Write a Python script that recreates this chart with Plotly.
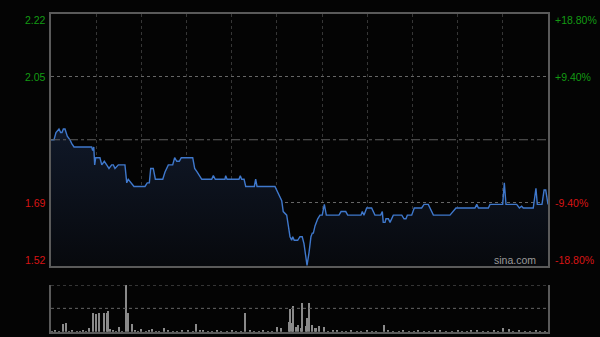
import plotly.graph_objects as go

# ---------------- data ----------------
prev_close = 1.87
price_minutes = [0, 2, 3.3, 5.3, 6.4, 7.3, 8.2, 9.3, 10.8, 12.6, 13.7, 15.3, 27, 27.7, 28.4, 29, 29.7,
                 32.5, 33.7, 35.4, 37, 38.5, 40.3, 41.4, 42.5, 44.7, 49.1, 50.3, 51.3, 52.9, 55.1, 62.4,
                 63.9, 65.3, 66.2, 67.9, 69.3, 74.2, 75.7, 77.9, 80.8, 82.1, 83.5, 85.2, 86.5, 94.1, 95.4,
                 97.1, 100.1, 106.7, 107.8, 109.1, 115.5, 116, 116.9, 124.8, 125.7, 126.6, 128.2, 129.3,
                 135, 135.9, 136.8, 148.7, 150.9, 153.2, 154.2, 156.5, 157.6, 158.7, 159.8, 160.5, 161.5,
                 163.8, 165.3, 166.8, 168, 169.1, 170, 171.3, 172.6, 173.5, 174.2, 175.3, 177.1, 178.6,
                 180.1, 181.5, 182.8, 191.2, 192.6, 195.7, 197, 205.8, 206.7, 207.8, 209.6, 212.9, 215.1,
                 218.9, 220, 220.6, 221.8, 222.4, 224, 225.1, 226.2, 227.3, 232.9, 234.4, 235.7, 236.6,
                 239.5, 241.2, 246.1, 247.7, 250.5, 251.7, 253.9, 264.9, 266.7, 268.9, 281.5, 282.7, 283.8,
                 290.4, 291.5, 299.9, 301, 302.1, 309.2, 311, 312.5, 313.6, 320.2, 322, 322.9, 326, 327.4,
                 328.5, 330]
prices = [1.87, 1.87, 1.89, 1.90, 1.89, 1.89, 1.90, 1.90, 1.88, 1.87, 1.86, 1.85, 1.85, 1.84, 1.85, 1.80, 1.82,
          1.82, 1.80, 1.81, 1.80, 1.79, 1.80, 1.80, 1.79, 1.80, 1.80, 1.75, 1.76, 1.75, 1.74, 1.74,
          1.75, 1.75, 1.79, 1.79, 1.76, 1.76, 1.78, 1.80, 1.80, 1.82, 1.81, 1.81, 1.82, 1.82, 1.79,
          1.78, 1.76, 1.76, 1.77, 1.76, 1.76, 1.77, 1.76, 1.76, 1.77, 1.76, 1.76, 1.74,
          1.74, 1.76, 1.74, 1.74, 1.72, 1.70, 1.67, 1.66, 1.63, 1.60, 1.59, 1.60, 1.59,
          1.59, 1.60, 1.60, 1.58, 1.55, 1.52, 1.555, 1.60, 1.61, 1.61, 1.63, 1.65, 1.66,
          1.66, 1.69, 1.66, 1.66, 1.67, 1.67, 1.66, 1.66, 1.67, 1.66, 1.68, 1.68, 1.66,
          1.66, 1.67, 1.64, 1.64, 1.65, 1.65, 1.64, 1.65, 1.66, 1.66, 1.65, 1.65, 1.66,
          1.66, 1.68, 1.68, 1.69, 1.69, 1.68, 1.66, 1.66, 1.67, 1.68, 1.68, 1.69, 1.68,
          1.68, 1.69, 1.69, 1.75, 1.69, 1.69, 1.68, 1.685, 1.68, 1.68, 1.735, 1.69, 1.69, 1.73,
          1.73, 1.69]

vol_minutes = [8, 10, 25, 28, 30, 32, 35, 37, 38, 39, 45, 50, 51, 54, 60, 67, 75, 91, 96, 101,
               129, 150, 153, 158, 159, 160, 161, 163, 164, 166, 167, 169, 170, 171, 173, 175,
               176, 178, 181, 187, 221, 255, 279, 300, 304]
vol_values = [16, 19, 7, 41, 37, 41, 39, 39, 44, 5, 11, 100, 39, 16, 5, 5, 7, 4, 16, 4,
              39, 11, 7, 21, 49, 19, 55, 10, 14, 7, 62, 12, 29, 61, 14, 9,
              9, 12, 11, 4, 14, 4, 3, 7, 6]
minor_minutes = [1, 3, 5, 12, 14, 17, 19, 21, 23, 41, 43, 47, 56, 58, 63, 65, 70, 72, 78, 81, 84, 87,
                 94, 99, 104, 107, 110, 113, 117, 120, 123, 126, 132, 135, 138, 141, 144, 147,
                 184, 190, 193, 196, 199, 203, 206, 210, 213, 216, 224, 227, 231, 234, 238, 241,
                 244, 248, 251, 258, 262, 266, 270, 273, 276, 283, 287, 290, 294, 297, 307, 311,
                 315, 318, 322, 325, 328]
minor_values = [1, 2, 1, 1, 2, 1, 1, 2, 1, 2, 1, 1, 2, 1, 1, 2, 1, 1, 2, 1, 1, 2,
                1, 2, 1, 1, 2, 1, 1, 2, 1, 1, 2, 1, 1, 2, 1, 1,
                1, 2, 1, 1, 2, 1, 1, 2, 1, 1, 2, 1, 1, 2, 1, 1,
                2, 1, 1, 2, 1, 1, 2, 1, 1, 2, 1, 1, 2, 1, 1, 2,
                1, 1, 2, 1, 1]

pct_levels = [0.188, 0.094, -0.094, -0.188]
pct_labels = ["+18.80%", "+9.40%", "-9.40%", "-18.80%"]
price_labels = ["2.22", "2.05", "1.69", "1.52"]

# ---------------- styling ----------------
BG = "#040404"
GREEN = "#139a13"
RED = "#d81414"
FONT = "Liberation Sans, Arial, sans-serif"

levels = [prev_close * (1 + p) for p in pct_levels]
y_top, y_bot = levels[0], levels[-1]

fig = go.Figure()

fig.add_trace(go.Scatter(
    x=price_minutes, y=prices, mode="lines",
    line=dict(color="#3f78cc", width=1.4),
    fill="tozeroy",
    fillgradient=dict(type="vertical",
                      colorscale=[[0, "#07090d"], [1, "#101828"]],
                      start=y_bot, stop=1.90),
    xaxis="x", yaxis="y", hoverinfo="skip", showlegend=False))

all_vm = vol_minutes + minor_minutes
all_vv = vol_values + minor_values
fig.add_trace(go.Bar(
    x=all_vm, y=all_vv, width=0.7,
    marker=dict(color="#8a8a8a", line=dict(width=0)),
    xaxis="x2", yaxis="y2", hoverinfo="skip", showlegend=False))

H = 337.0
main_dom = [1 - 266 / H, 1 - 13.5 / H]
vol_dom = [1 - 331.7 / H, 1 - 285 / H]

fig.update_layout(
    width=600, height=337,
    margin=dict(l=51, r=52, t=0, b=0),
    paper_bgcolor=BG, plot_bgcolor=BG,
    font=dict(family=FONT),
    xaxis=dict(domain=[0, 1], range=[0, 330], anchor="y",
               tickvals=list(range(30, 330, 30)), showticklabels=False, ticks="",
               showgrid=True, gridcolor="#363636", griddash="dot", gridwidth=1,
               showline=True, mirror=True, linecolor="#5a5a5a", linewidth=1.5, zeroline=False),
    yaxis=dict(domain=main_dom, range=[y_bot, y_top], anchor="x",
               tickvals=[levels[1], levels[2]], showticklabels=False, ticks="",
               showgrid=True, gridcolor="#666666", griddash="dot", gridwidth=1,
               showline=True, mirror=True, linecolor="#5a5a5a", linewidth=1.5, zeroline=False),
    xaxis2=dict(domain=[0, 1], range=[0, 330], anchor="y2",
                showticklabels=False, ticks="", showgrid=False,
                showline=True, mirror=False, linecolor="#5a5a5a", linewidth=1.5, zeroline=False),
    yaxis2=dict(domain=vol_dom, range=[0, max(vol_values)], anchor="x2",
                showticklabels=False, ticks="", showgrid=False,
                showline=True, mirror=True, linecolor="#5a5a5a", linewidth=1.5, zeroline=False),
    bargap=0,
)

shapes = [
    dict(type="line", xref="paper", x0=0, x1=1, yref="y", y0=prev_close, y1=prev_close,
         line=dict(color="#5e5e5e", width=1, dash="dashdot")),
    dict(type="line", xref="paper", x0=0, x1=1, yref="y2", y0=max(vol_values), y1=max(vol_values),
         line=dict(color="#666666", width=1, dash="dot")),
    dict(type="line", xref="paper", x0=0, x1=1, yref="y2", y0=max(vol_values) / 2, y1=max(vol_values) / 2,
         line=dict(color="#666666", width=1, dash="dot")),
]
fig.update_layout(shapes=shapes)

ann = []
anchors = ["top", "middle", "middle", "bottom"]
shifts = [2, 0, 0, -2]
for i, (lv, pl, ql) in enumerate(zip(levels, price_labels, pct_labels)):
    col = GREEN if i < 2 else RED
    ann.append(dict(xref="paper", yref="y", x=-0.006, y=lv, text=pl, showarrow=False,
                    xanchor="right", yanchor=anchors[i], yshift=shifts[i],
                    font=dict(color=col, size=10.5, family=FONT)))
    ann.append(dict(xref="paper", yref="y", x=1.010, y=lv, text=ql, showarrow=False,
                    xanchor="left", yanchor=anchors[i], yshift=shifts[i],
                    font=dict(color=col, size=10.5, family=FONT)))
ann.append(dict(xref="paper", yref="y", x=0.98, y=y_bot, text="sina.com", showarrow=False,
                xanchor="right", yanchor="bottom", yshift=-2,
                font=dict(color="#9a9a9a", size=10.5, family=FONT)))
fig.update_layout(annotations=ann)

fig.write_html("out.html")
